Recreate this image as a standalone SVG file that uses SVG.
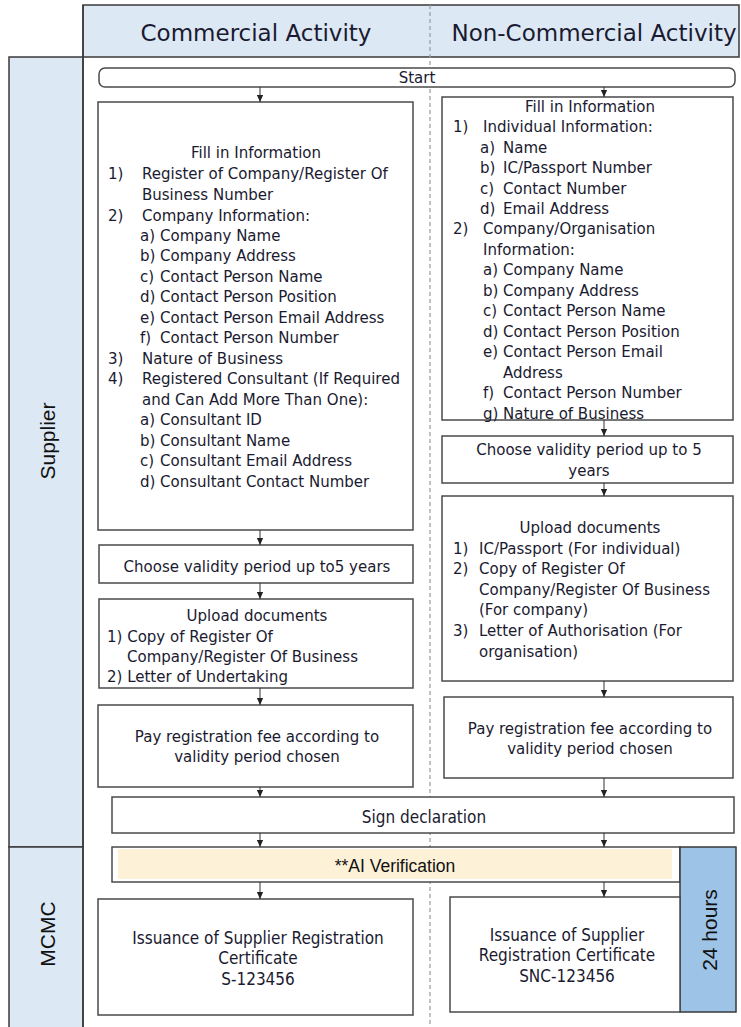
<svg xmlns="http://www.w3.org/2000/svg" width="741" height="1027" viewBox="0 0 741 1027">
<defs>
<marker id="ah" viewBox="0 0 10 10" refX="10" refY="5" markerWidth="7" markerHeight="7" orient="auto" markerUnits="userSpaceOnUse">
<path d="M0,0.5 L10,5 L0,9.5 z" fill="#222"/>
</marker>
<style>
.lane{fill:#dde8f5;stroke:#3a3a3a;stroke-width:1.5}
.box{fill:#fff;stroke:#4a4a4a;stroke-width:1.5}
.t{font-family:"DejaVu Sans",sans-serif;font-size:15px;fill:#1a1a30}
.c{text-anchor:middle}
.h{font-family:"DejaVu Sans",sans-serif;font-size:23px;fill:#1a1a30;text-anchor:middle}
.n{font-family:"DejaVu Sans Condensed","DejaVu Sans",sans-serif;font-size:17px;fill:#1a1a30;text-anchor:middle}
.l{font-family:"Liberation Sans",Arial,sans-serif;font-size:21px;fill:#111;text-anchor:middle;dominant-baseline:central}
.conn line{stroke:#333;stroke-width:1;marker-end:url(#ah)}
</style>
</defs>
<rect width="741" height="1027" fill="#fff"/>

<g id="lanes">
<rect class="lane" x="83" y="5" width="656" height="52"/>
<line x1="430" y1="5" x2="430" y2="1027" stroke="#9a9a9a" stroke-width="1.2" stroke-dasharray="4 3"/>
<rect class="lane" x="9" y="57" width="74" height="790"/>
<rect class="lane" x="9" y="847" width="74" height="185"/>
<line x1="83" y1="5" x2="83" y2="1027" stroke="#3a3a3a" stroke-width="1.5"/>
<text class="h" x="256" y="41">Commercial Activity</text>
<text class="h" x="594" y="41">Non-Commercial Activity</text>
<text class="l" transform="translate(47,441) rotate(-90)">Supplier</text>
<text class="l" transform="translate(47,934) rotate(-90)">MCMC</text>
</g>

<g id="start">
<rect class="box" x="99" y="68" width="636" height="19" rx="6"/>
<text class="t c" x="417" y="83" font-size="14">Start</text>
</g>

<g id="c-fill">
<rect class="box" x="98" y="102" width="315" height="428"/>
<text class="t c" x="256" y="158">Fill in Information</text>
<text class="t" x="108" y="179">1)</text><text class="t" x="142" y="179">Register of Company/Register Of</text>
<text class="t" x="142" y="200">Business Number</text>
<text class="t" x="108" y="221">2)</text><text class="t" x="142" y="221">Company Information:</text>
<text class="t" x="140" y="241">a)</text><text class="t" x="160" y="241">Company Name</text>
<text class="t" x="140" y="261">b)</text><text class="t" x="160" y="261">Company Address</text>
<text class="t" x="140" y="282">c)</text><text class="t" x="160" y="282">Contact Person Name</text>
<text class="t" x="140" y="302">d)</text><text class="t" x="160" y="302">Contact Person Position</text>
<text class="t" x="140" y="323">e)</text><text class="t" x="160" y="323">Contact Person Email Address</text>
<text class="t" x="140" y="343">f)</text><text class="t" x="160" y="343">Contact Person Number</text>
<text class="t" x="108" y="364">3)</text><text class="t" x="142" y="364">Nature of Business</text>
<text class="t" x="108" y="384">4)</text><text class="t" x="142" y="384">Registered Consultant (If Required</text>
<text class="t" x="142" y="405">and Can Add More Than One):</text>
<text class="t" x="140" y="425">a)</text><text class="t" x="160" y="425">Consultant ID</text>
<text class="t" x="140" y="446">b)</text><text class="t" x="160" y="446">Consultant Name</text>
<text class="t" x="140" y="466">c)</text><text class="t" x="160" y="466">Consultant Email Address</text>
<text class="t" x="140" y="487">d)</text><text class="t" x="160" y="487">Consultant Contact Number</text>
</g>

<g id="c-validity">
<rect class="box" x="99" y="545" width="314" height="38"/>
<text class="t c" x="257" y="572">Choose validity period up to5 years</text>
</g>

<g id="c-upload">
<rect class="box" x="99" y="599" width="314" height="89"/>
<text class="t c" x="257" y="621">Upload documents</text>
<text class="t" x="107" y="642">1) Copy of Register Of</text>
<text class="t" x="127" y="662">Company/Register Of Business</text>
<text class="t" x="107" y="682">2) Letter of Undertaking</text>
</g>

<g id="c-pay">
<rect class="box" x="98" y="705" width="315" height="82"/>
<text class="t c" x="257" y="742">Pay registration fee according to</text>
<text class="t c" x="257" y="762">validity period chosen</text>
</g>

<g id="n-fill">
<rect class="box" x="442" y="97" width="291" height="323"/>
<text class="t c" x="590" y="112">Fill in Information</text>
<text class="t" x="453" y="132">1)</text><text class="t" x="483" y="132">Individual Information:</text>
<text class="t" x="480" y="153">a)</text><text class="t" x="503" y="153">Name</text>
<text class="t" x="480" y="173">b)</text><text class="t" x="503" y="173">IC/Passport Number</text>
<text class="t" x="480" y="194">c)</text><text class="t" x="503" y="194">Contact Number</text>
<text class="t" x="480" y="214">d)</text><text class="t" x="503" y="214">Email Address</text>
<text class="t" x="453" y="234">2)</text><text class="t" x="483" y="234">Company/Organisation</text>
<text class="t" x="483" y="255">Information:</text>
<text class="t" x="483" y="275">a)</text><text class="t" x="503" y="275">Company Name</text>
<text class="t" x="483" y="296">b)</text><text class="t" x="503" y="296">Company Address</text>
<text class="t" x="483" y="316">c)</text><text class="t" x="503" y="316">Contact Person Name</text>
<text class="t" x="483" y="337">d)</text><text class="t" x="503" y="337">Contact Person Position</text>
<text class="t" x="483" y="357">e)</text><text class="t" x="503" y="357">Contact Person Email</text>
<text class="t" x="503" y="378">Address</text>
<text class="t" x="483" y="398">f)</text><text class="t" x="503" y="398">Contact Person Number</text>
<text class="t" x="483" y="419">g)</text><text class="t" x="503" y="419">Nature of Business</text>
</g>

<g id="n-validity">
<rect class="box" x="442" y="436" width="291" height="47"/>
<text class="t c" x="589" y="455">Choose validity period up to 5</text>
<text class="t c" x="589" y="476">years</text>
</g>

<g id="n-upload">
<rect class="box" x="442" y="496" width="291" height="185"/>
<text class="t c" x="590" y="533">Upload documents</text>
<text class="t" x="453" y="554">1)</text><text class="t" x="479" y="554">IC/Passport (For individual)</text>
<text class="t" x="453" y="574">2)</text><text class="t" x="479" y="574">Copy of Register Of</text>
<text class="t" x="479" y="595">Company/Register Of Business</text>
<text class="t" x="479" y="615">(For company)</text>
<text class="t" x="453" y="636">3)</text><text class="t" x="479" y="636">Letter of Authorisation (For</text>
<text class="t" x="479" y="657">organisation)</text>
</g>

<g id="n-pay">
<rect class="box" x="444" y="697" width="289" height="81"/>
<text class="t c" x="590" y="734">Pay registration fee according to</text>
<text class="t c" x="590" y="754">validity period chosen</text>
</g>

<g id="sign">
<rect class="box" x="112" y="797" width="622" height="36"/>
<text class="n" x="424" y="823">Sign declaration</text>
</g>

<g id="ai">
<rect class="box" x="112" y="847" width="568" height="35"/>
<rect x="118" y="849" width="554" height="30" fill="#fdf1d7"/>
<text x="395" y="872" font-family="Liberation Sans, Arial, sans-serif" font-size="17.5" fill="#111" text-anchor="middle">**AI Verification</text>
</g>

<g id="hours">
<rect x="680" y="847" width="56" height="165" fill="#9dc3e6" stroke="#3a3a3a" stroke-width="1.5"/>
<text class="l" font-size="19" transform="translate(709,930) rotate(-90)">24 hours</text>
</g>

<g id="c-cert">
<rect class="box" x="98" y="899" width="315" height="116"/>
<text class="n" x="258" y="944">Issuance of Supplier Registration</text>
<text class="n" x="258" y="964">Certificate</text>
<text class="n" x="258" y="985">S-123456</text>
</g>

<g id="n-cert">
<rect class="box" x="450" y="897" width="230" height="115"/>
<text class="n" x="567" y="941">Issuance of Supplier</text>
<text class="n" x="567" y="961">Registration Certificate</text>
<text class="n" x="567" y="982">SNC-123456</text>
</g>

<g id="connectors" class="conn">
<line x1="260" y1="87" x2="260" y2="102"/>
<line x1="260" y1="530" x2="260" y2="545"/>
<line x1="260" y1="583" x2="260" y2="599"/>
<line x1="260" y1="688" x2="260" y2="705"/>
<line x1="260" y1="787" x2="260" y2="797"/>
<line x1="260" y1="833" x2="260" y2="847"/>
<line x1="260" y1="882" x2="260" y2="899"/>
<line x1="604" y1="87" x2="604" y2="97"/>
<line x1="604" y1="420" x2="604" y2="436"/>
<line x1="604" y1="483" x2="604" y2="496"/>
<line x1="604" y1="681" x2="604" y2="697"/>
<line x1="604" y1="778" x2="604" y2="797"/>
<line x1="604" y1="833" x2="604" y2="847"/>
<line x1="604" y1="882" x2="604" y2="897"/>
</g>
</svg>
